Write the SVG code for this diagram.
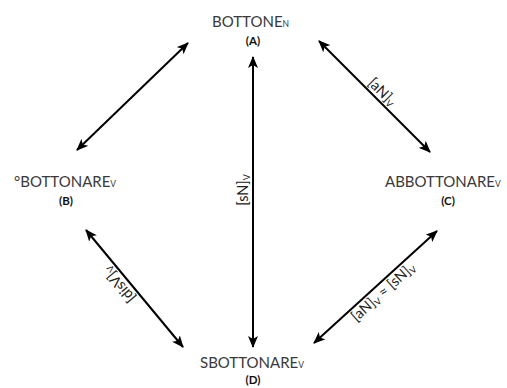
<svg xmlns="http://www.w3.org/2000/svg" width="507" height="388" viewBox="0 0 507 388">
<defs>
<marker id="ah" viewBox="0 0 12 10" refX="11" refY="5" markerWidth="12" markerHeight="10" markerUnits="userSpaceOnUse" orient="auto-start-reverse">
<path d="M0,0 L12,5 L0,10 L3,5 z" fill="#000"/>
</marker>
<style>
.n{font-family:"Lato","Open Sans","Liberation Sans",sans-serif;font-size:15px;fill:#3a3a3a}
.sub{font-size:8.5px}
.l{font-family:"Lato","Open Sans","Liberation Sans",sans-serif;font-size:11.5px;fill:#111;font-weight:bold;text-anchor:middle}
.e{font-family:"Lato","Open Sans","Liberation Sans",sans-serif;font-size:14.5px;fill:#222;text-anchor:middle}
.es{font-size:9px}
.c{stroke:#000;stroke-width:2;fill:none;marker-start:url(#ah);marker-end:url(#ah)}
</style>
</defs>
<g id="connectors">
<line class="c" x1="77" y1="150" x2="188" y2="43"/>
<line class="c" x1="319" y1="41" x2="430" y2="152"/>
<line class="c" x1="253" y1="57" x2="253" y2="347"/>
<line class="c" x1="86" y1="230" x2="183" y2="347"/>
<line class="c" x1="437" y1="231" x2="314" y2="343"/>
<text class="e" transform="translate(376,98) rotate(45)" x="0" y="-4">[aN]<tspan class="es" dy="2">V</tspan></text>
<text class="e" transform="translate(253,190) rotate(-90)" x="0" y="-5">[sN]<tspan class="es" dy="2">V</tspan></text>
<text class="e" transform="translate(126,279) rotate(-130)" x="0" y="-4">[disV]<tspan class="es" dy="2">V</tspan></text>
<text class="e" transform="translate(377,285) rotate(-42)" x="0" y="14">[aN]<tspan class="es" dy="2">V</tspan><tspan dy="-2"> ≈ [sN]</tspan><tspan class="es" dy="2">V</tspan></text>
</g>
<g id="nodeA">
<text class="n" x="212" y="27">BOTTONE<tspan class="sub">N</tspan></text>
<text class="l" x="253" y="45">(A)</text>
</g>
<g id="nodeB">
<text class="n" x="14" y="187">°BOTTONARE<tspan class="sub">V</tspan></text>
<text class="l" x="66" y="205">(B)</text>
</g>
<g id="nodeC">
<text class="n" x="385" y="187">ABBOTTONARE<tspan class="sub">V</tspan></text>
<text class="l" x="448" y="205">(C)</text>
</g>
<g id="nodeD">
<text class="n" x="200" y="368">SBOTTONARE<tspan class="sub">V</tspan></text>
<text class="l" x="253" y="384">(D)</text>
</g>
</svg>
